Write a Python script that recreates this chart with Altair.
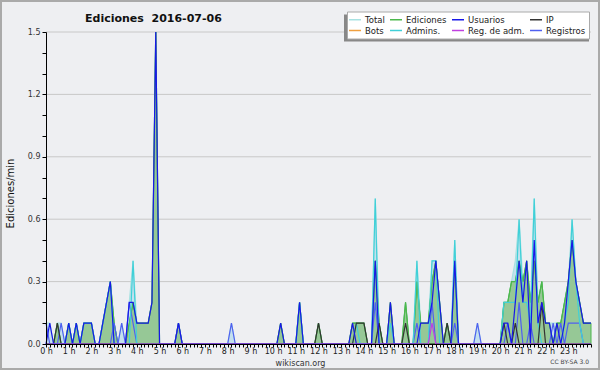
import altair as alt
import pandas as pd

# 10-minute bins, 0 h .. 24 h (index i -> hour i/6)
N_BINS = 145

# values in edits/min (sparse: bin index -> value)
TOTAL = {0: .1, 1: .1, 3: .1, 4: .1, 6: .1, 8: .1, 10: .1, 11: .1, 12: .1, 15: .1, 16: .2, 17: .3,
         18: .1, 20: .1, 22: .2, 23: .4, 24: .1, 25: .1, 26: .1, 27: .1, 28: .2, 29: 1.5, 35: .1,
         49: .1, 62: .1, 67: .2, 72: .1, 81: .1, 82: .1, 83: .1, 84: .1, 87: .7, 88: .1, 91: .2,
         95: .2, 98: .4, 99: .1, 100: .1, 101: .1, 102: .4, 103: .4, 104: .2, 106: .1, 108: .5,
         114: .1, 121: .2, 122: .2, 123: .3, 124: .4, 125: .6, 126: .3, 127: .4, 128: .2, 129: .7,
         130: .2, 131: .3, 132: .1, 133: .1, 134: .1, 135: .1, 136: .1, 137: .2, 138: .3, 139: .6,
         140: .3, 141: .2, 142: .1, 143: .1, 144: .1}
EDICIONES = {3: .1, 6: .1, 8: .1, 10: .1, 11: .1, 12: .1, 15: .1, 16: .2, 17: .3, 18: .1, 22: .1,
             23: .2, 24: .1, 25: .1, 26: .1, 27: .1, 28: .2, 29: 1.5, 35: .1, 62: .1, 67: .2, 72: .1,
             81: .1, 82: .1, 83: .1, 84: .1, 87: .4, 88: .1, 91: .2, 95: .2, 98: .3, 99: .1, 100: .1,
             101: .1, 102: .3, 103: .4, 104: .2, 106: .1, 108: .4, 121: .2, 122: .2, 123: .3, 124: .3,
             125: .4, 126: .3, 127: .4, 128: .2, 129: .4, 130: .2, 131: .3, 132: .1, 133: .1, 135: .1,
             136: .1, 137: .2, 138: .3, 139: .5, 140: .3, 141: .2, 142: .1, 143: .1, 144: .1}
USUARIOS = {1: .1, 6: .1, 8: .1, 10: .1, 11: .1, 12: .1, 15: .1, 16: .2, 17: .3, 22: .2, 23: .2,
            24: .1, 25: .1, 26: .1, 27: .1, 28: .2, 29: 1.5, 35: .1, 62: .1, 67: .2, 81: .1, 87: .4,
            91: .2, 99: .1, 100: .1, 101: .1, 102: .2, 103: .4, 104: .2, 108: .4, 121: .1, 122: .1,
            124: .2, 125: .4, 126: .2, 127: .4, 129: .5, 130: .1, 131: .2, 132: .1, 133: .1, 135: .1,
            137: .1, 138: .3, 139: .5, 140: .3, 141: .2, 142: .1, 143: .1, 144: .1}
IP = {3: .1, 72: .1, 82: .1, 83: .1, 84: .1, 88: .1, 95: .1, 106: .1, 121: .1, 124: .1, 131: .2}
ADMINS = {6: .1, 8: .1, 10: .1, 11: .1, 12: .1, 15: .1, 16: .2, 17: .3, 23: .4, 67: .2, 82: .1,
          87: .7, 91: .1, 98: .4, 102: .4, 103: .4, 108: .5, 121: .2, 122: .2, 123: .2, 124: .2,
          125: .6, 126: .2, 127: .2, 128: .1, 129: .7, 130: .1, 137: .1, 138: .2, 139: .6, 140: .3,
          141: .1}
REG_ADM = {102: .1}
REGISTROS = {0: .1, 4: .1, 18: .1, 20: .1, 22: .2, 23: .1, 35: .1, 49: .1, 87: .2, 98: .1, 102: .2,
             108: .1, 114: .1, 122: .1, 125: .2, 128: .1, 134: .1, 136: .1, 138: .1, 139: .1,
             140: .1, 141: .1}

SERIES = ["Total", "Ediciones", "Usuarios", "IP", "Bots", "Admins.", "Reg. de adm.", "Registros"]
COLORS = ["#a8e2e2", "#4cb84c", "#1818e8", "#333333", "#f0a040", "#40d0d8", "#c040e0", "#5060f0"]
Y_GRID = [0.3, 0.6, 0.9, 1.2, 1.5]
Y_TICKS = [round(k / 10, 1) for k in range(16)]
X_TICKS = [i / 6 for i in range(N_BINS)]

series_data = {"Total": TOTAL, "Ediciones": EDICIONES, "Usuarios": USUARIOS, "IP": IP,
               "Admins.": ADMINS, "Reg. de adm.": REG_ADM, "Registros": REGISTROS}
rows = []
for name, d in series_data.items():
    for i in range(N_BINS):
        rows.append({"h": i / 6, "v": d.get(i, 0.0), "s": name})
df = pd.DataFrame(rows)

FONT = "DejaVu Sans"

X = alt.X("h:Q", scale=alt.Scale(domain=[0, 24], nice=False, zero=False),
          axis=alt.Axis(values=X_TICKS, tickSize=3, labelPadding=0, labelFont=FONT, labelFontSize=8,
                        labelColor="#222", labelOverlap=False, labelFlush=False, grid=False,
                        domainColor="#000", tickColor="#000",
                        labelExpr="datum.value < 24 && abs(datum.value - round(datum.value)) < 0.001 ? round(datum.value) + ' h' : ''",
                        title="wikiscan.org", titleFont=FONT, titleFontSize=8, titleFontWeight="normal",
                        titleColor="#333", titleX=254, titleY=21, titleAlign="center",
                        titleBaseline="alphabetic", zindex=1))
Y = alt.Y("v:Q", scale=alt.Scale(domain=[0, 1.5], nice=False),
          axis=alt.Axis(values=Y_TICKS, tickSize=4, labelPadding=2, labelFont=FONT, labelFontSize=8,
                        labelColor="#333", labelOverlap=False, grid=False,
                        domainColor="#000", tickColor="#000",
                        labelExpr="abs(datum.value * 10 / 3 - round(datum.value * 10 / 3)) < 0.01 ? format(datum.value, '.1f') : ''",
                        title="Ediciones/min", titleFont=FONT, titleFontSize=10, titleFontWeight="normal",
                        titleColor="#111", titleX=-36, titleY=161, titleAlign="center",
                        titleBaseline="middle", zindex=1))

color = alt.Color("s:N", scale=alt.Scale(domain=SERIES, range=COLORS),
                  legend=alt.Legend(orient="none", legendX=301, legendY=-20.5, columns=4, title=None,
                                    direction="horizontal",
                                    symbolType="M-1.5,0L1.5,0", symbolSize=64, symbolStrokeWidth=1.5,
                                    labelOffset=5, columnPadding=2, rowPadding=1, padding=3,
                                    labelFont=FONT, labelFontSize=8.5, labelColor="#222",
                                    fillColor="white", strokeColor="#aaaaaa", cornerRadius=0))

one = pd.DataFrame({"a": [0]})

border = alt.Chart(one).mark_rect(filled=False, stroke="#aaaaaa", strokeWidth=2).encode(
    x=alt.value(-45), x2=alt.value(553), y=alt.value(-31), y2=alt.value(337))
shadow = alt.Chart(one).mark_rect(fill="#888888").encode(
    x=alt.value(298), x2=alt.value(543), y=alt.value(-17.5), y2=alt.value(9.5))
cc = alt.Chart(one).mark_text(text="CC BY-SA 3.0", font=FONT, fontSize=6, color="#444",
                              align="right", baseline="alphabetic").encode(
    x=alt.value(543), y=alt.value(332))

grid = alt.Chart(pd.DataFrame({"v": Y_GRID})).mark_rule(color="#c8c8c8", strokeWidth=1).encode(y=Y)

def sub(name):
    return alt.Chart(df).transform_filter(alt.datum.s == name)

total_area = sub("Total").mark_area(color="#c4e0ee", interpolate="linear").encode(x=X, y=Y)
edic_area = sub("Ediciones").mark_area(fill="#96c896", stroke="#4cb84c", strokeWidth=1,
                                       interpolate="linear").encode(x=X, y=Y)

def line(name):
    return sub(name).mark_line(strokeWidth=1.2, interpolate="linear").encode(x=X, y=Y, color=color)

chart = alt.layer(
    border, grid, total_area, line("Total"), edic_area, line("Ediciones"),
    line("Registros"), line("Admins."), line("IP"), line("Usuarios"), line("Reg. de adm."),
    shadow, cc
).properties(
    width=545, height=312,
    title=alt.TitleParams("Ediciones\u00a0\u00a02016-07-06", anchor="start", frame="group", dx=39,
                          dy=32, offset=8, font=FONT, fontSize=11, fontWeight="bold", color="#111"),
    autosize=alt.AutoSizeParams(type="none"),
    padding={"left": 46, "top": 32, "right": 9, "bottom": 26},
).configure(background="#eeeff2").configure_view(stroke=None)

chart.save("out.html", embed_options={"renderer": "svg", "actions": False})
